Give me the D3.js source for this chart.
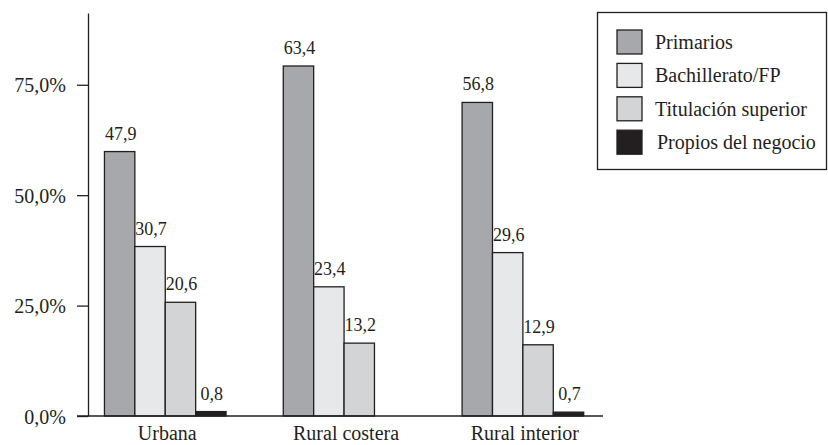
<!DOCTYPE html>
<html>
<head>
<meta charset="utf-8">
<script src="https://cdn.jsdelivr.net/npm/d3@7"></script>
<style>
  html, body { margin: 0; padding: 0; background: #fff; }
  svg { display: block; font-family: "Liberation Serif", "Times New Roman", serif; }
</style>
</head>
<body>
<svg id="chart" width="828" height="445"></svg>
<script>
// Zone types along the x axis
const categories = ["Urbana", "Rural costera", "Rural interior"];
// Education levels (one bar per level inside each zone)
const seriesNames = ["Primarios", "Bachillerato/FP", "Titulación superior", "Propios del negocio"];
// Values printed above each bar
const primarios = [47.9, 63.4, 56.8];
const bachillerato = [30.7, 23.4, 29.6];
const titulacion = [20.6, 13.2, 12.9];
const propios = [0.8, null, 0.7];
// Axis graduation: tick positions and their printed labels
const tickPositions = [0, 20, 40, 60];
const tickLabels = ["0,0%", "25,0%", "50,0%", "75,0%"];

const seriesValues = [primarios, bachillerato, titulacion, propios];
const fills = ["#a7a8ab", "#e7e8ea", "#d3d4d6", "#231f20"];
const ink = "#231f20";

const svg = d3.select("#chart");

const axisX = 88, baseY = 416, topY = 13;
const y = d3.scaleLinear().domain([0, 73]).range([baseY, topY]);
const x0 = d3.scaleBand().domain(categories).range([axisX, 603])
  .paddingInner(0.32).paddingOuter(0.1).align(0.46);
const x1 = d3.scaleBand().domain(seriesNames).range([0, x0.bandwidth()]).padding(0);

// y axis
const yAxis = d3.axisLeft(y)
  .tickValues(tickPositions)
  .tickFormat((d, i) => tickLabels[i])
  .tickSize(11)
  .tickSizeOuter(0)
  .tickPadding(11);
const gy = svg.append("g").attr("transform", `translate(${axisX},0)`).call(yAxis);
gy.select(".domain").attr("stroke", ink).attr("stroke-width", 1.3);
gy.selectAll(".tick line").attr("stroke", ink).attr("stroke-width", 1.3);
gy.selectAll(".tick text")
  .attr("fill", ink)
  .attr("font-size", 20)
  .attr("font-family", "Liberation Serif, serif")
  .attr("dy", "0.36em");

// bars
const rows = [];
categories.forEach((c, ci) => {
  seriesNames.forEach((s, si) => {
    const v = seriesValues[si][ci];
    if (v != null) rows.push({ c, s, si, v });
  });
});

const g = svg.append("g");
g.selectAll("rect.bar").data(rows).join("rect")
  .attr("class", "bar")
  .attr("x", d => x0(d.c) + x1(d.s))
  .attr("y", d => y(d.v))
  .attr("width", x1.bandwidth())
  .attr("height", d => y(0) - y(d.v))
  .attr("fill", d => fills[d.si])
  .attr("stroke", ink)
  .attr("stroke-width", 1.3);

g.selectAll("text.val").data(rows).join("text")
  .attr("class", "val")
  .attr("x", d => x0(d.c) + x1(d.s) + x1.bandwidth() / 2 + 1)
  .attr("y", d => y(d.v) - 12)
  .attr("text-anchor", "middle")
  .attr("font-size", 18)
  .attr("fill", ink)
  .text(d => d3.format(".1f")(d.v).replace(".", ","));

// baseline
svg.append("line")
  .attr("x1", axisX - 11).attr("x2", 603)
  .attr("y1", y(0)).attr("y2", y(0))
  .attr("stroke", ink).attr("stroke-width", 1.3);

// category labels
svg.selectAll("text.cat").data(categories).join("text")
  .attr("class", "cat")
  .attr("x", d => x0(d) + x0.bandwidth() / 2 + 2)
  .attr("y", 440)
  .attr("text-anchor", "middle")
  .attr("font-size", 20)
  .attr("fill", ink)
  .text(d => d);

// legend
const lg = svg.append("g");
lg.append("rect")
  .attr("x", 597.5).attr("y", 12.5).attr("width", 229).attr("height", 157)
  .attr("fill", "#fff").attr("stroke", ink).attr("stroke-width", 1.3);
const item = lg.selectAll("g.item").data(seriesNames).join("g")
  .attr("class", "item")
  .attr("transform", (d, i) => `translate(617,${30 + i * 33.4})`);
item.append("rect")
  .attr("width", 25).attr("height", 24)
  .attr("fill", (d, i) => fills[i])
  .attr("stroke", ink).attr("stroke-width", 1.3);
item.append("text")
  .attr("x", (d, i) => i === 3 ? 40 : 38)
  .attr("y", 19)
  .attr("font-size", 20)
  .attr("fill", ink)
  .text(d => d);
</script>
</body>
</html>
